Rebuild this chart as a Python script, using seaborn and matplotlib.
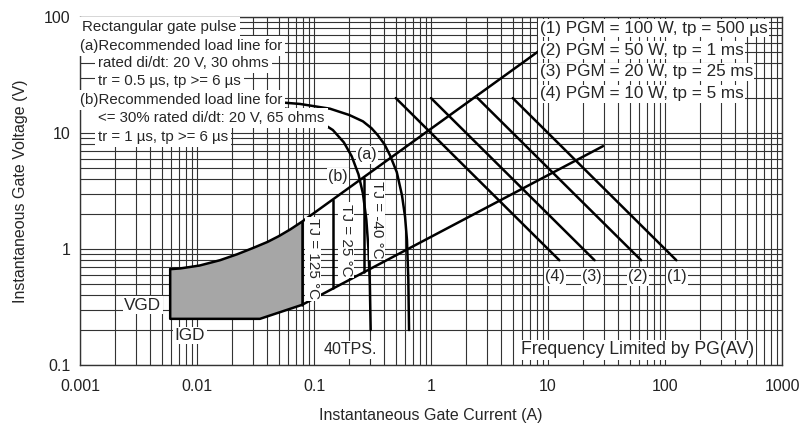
import matplotlib
matplotlib.use("Agg")
import matplotlib.pyplot as plt
import matplotlib.ticker as mticker
import seaborn as sns
import pandas as pd

# gate trigger area: upper load-line path and lower boundary path
upper_i = [0.0059, 0.0072, 0.0105, 0.0157, 0.022, 0.0301, 0.04, 0.05, 0.063, 0.079, 8.6]
upper_v = [0.67, 0.68, 0.72, 0.80, 0.90, 1.02, 1.15, 1.29, 1.48, 1.72, 52.0]
lower_i = [0.0059, 0.0059, 0.0345, 0.079, 29.5]
lower_v = [0.67, 0.25, 0.25, 0.33, 7.7]
n_top = 10  # points of upper_i that bound the shaded area

# recommended load lines (a) 20 V / 30 ohm and (b) 20 V / 65 ohm
load_a_i = [0.001, 0.03, 0.076, 0.137, 0.2, 0.262, 0.31, 0.35, 0.4, 0.447, 0.51, 0.565, 0.6, 0.623, 0.64, 0.649]
load_a_v = [20.0, 19.2, 17.8, 16.2, 14.3, 12.6, 11.0, 9.6, 8.0, 6.4, 4.6, 2.9, 1.9, 1.2, 0.55, 0.2]
load_b_i = [0.001, 0.03, 0.06, 0.1, 0.145, 0.18, 0.21, 0.24, 0.262, 0.28, 0.292, 0.3, 0.305]
load_b_v = [19.9, 18.0, 16.1, 13.5, 10.6, 8.3, 6.3, 4.4, 3.0, 1.8, 1.0, 0.5, 0.2]

# IGT limits for each junction temperature (vertical segments)
tj_labels = ["TJ = 125 °C", "TJ = 25 °C", "TJ = -40 °C"]
tj_i = [0.079, 0.145, 0.265]
tj_v_low = [0.33, 0.46, 0.63]
tj_v_high = [1.72, 2.65, 4.08]
tj_text_i = [0.098, 0.188, 0.345]
tj_text_v = [0.82, 1.2, 1.78]

# peak gate power lines (1)..(4)
pgm_names = ["(1)", "(2)", "(3)", "(4)"]
pgm_i_start = [5.0, 2.5, 1.0, 0.5]
pgm_i_end = [125.0, 62.5, 25.0, 12.5]
pgm_v = [20.0, 0.8]
pgm_label_i = [127.0, 58.7, 23.8, 11.5]
pgm_label_v = 0.574

legend_lines = ["(1) PGM = 100 W, tp = 500 µs",
                "(2) PGM = 50 W, tp = 1 ms",
                "(3) PGM = 20 W, tp = 25 ms",
                "(4) PGM = 10 W, tp = 5 ms"]
note_lines = ["Rectangular gate pulse",
              "(a)Recommended load line for",
              "rated di/dt: 20 V, 30 ohms",
              "tr = 0.5 µs, tp >= 6 µs",
              "(b)Recommended load line for",
              "<= 30% rated di/dt: 20 V, 65 ohms",
              "tr = 1 µs, tp >= 6 µs"]
note_indent = [0.003, 0.0, 0.026, 0.026, 0.0, 0.026, 0.026]
note_y = [0.971, 0.917, 0.868, 0.816, 0.761, 0.710, 0.655]

x_ticks = [0.001, 0.01, 0.1, 1, 10, 100, 1000]
x_tick_labels = ["0.001", "0.01", "0.1", "1", "10", "100", "1000"]
y_ticks = [0.1, 1, 10, 100]
y_tick_labels = ["0.1", "1", "10", "100"]

sns.set_theme(style="white")
plt.rcParams["font.family"] = ["Liberation Sans", "DejaVu Sans"]

# one long table for all the black curves
rows = []
def add_curve(name, xs, ys):
    for x, y in zip(xs, ys):
        rows.append({"curve": name, "I": x, "V": y})

add_curve("upper", upper_i, upper_v)
add_curve("lower", lower_i, lower_v)
add_curve("a", load_a_i, load_a_v)
add_curve("b", load_b_i, load_b_v)
for k in range(len(tj_i)):
    add_curve("tj%d" % k, [tj_i[k], tj_i[k]], [tj_v_low[k], tj_v_high[k]])
for k in range(len(pgm_names)):
    add_curve("p%d" % k, [pgm_i_start[k], pgm_i_end[k]], pgm_v)
curves = pd.DataFrame(rows)

fig = plt.figure(figsize=(8.01, 4.26), dpi=100)
ax = fig.add_axes([80 / 801, 1 - 365 / 426, 702 / 801, 348 / 426])
ax.set_xscale("log")
ax.set_yscale("log")
ax.set_xlim(0.001, 1000)
ax.set_ylim(0.1, 100)

# shaded gate trigger area
poly_i = upper_i[:n_top] + [lower_i[3], lower_i[2], lower_i[1]]
poly_v = upper_v[:n_top] + [lower_v[3], lower_v[2], lower_v[1]]
ax.fill(poly_i, poly_v, color="#a6a6a6", zorder=1.5, lw=0)

sns.lineplot(data=curves, x="I", y="V", units="curve", estimator=None,
             sort=False, color="black", lw=1.8, ax=ax, zorder=2)

ax.grid(True, which="both", color="#333333", lw=0.8)
ax.set_axisbelow(True)
ax.set_xticks(x_ticks)
ax.set_xticklabels(x_tick_labels)
ax.set_yticks(y_ticks)
ax.set_yticklabels(y_tick_labels)
ax.xaxis.set_minor_locator(mticker.LogLocator(base=10, subs=range(2, 10)))
ax.yaxis.set_minor_locator(mticker.LogLocator(base=10, subs=range(2, 10)))
ax.xaxis.set_minor_formatter(mticker.NullFormatter())
ax.yaxis.set_minor_formatter(mticker.NullFormatter())
ax.tick_params(which="both", length=0, labelsize=11.5, colors="#222222")
ax.tick_params(axis="x", pad=10)
ax.tick_params(axis="y", pad=7)
for s in ax.spines.values():
    s.set_color("#333333")
    s.set_linewidth(1.0)

ax.set_xlabel("Instantaneous Gate Current (A)", fontsize=11.5, labelpad=10)
ax.set_ylabel("Instantaneous Gate Voltage (V)", fontsize=11.5, labelpad=11)

box = dict(facecolor="white", edgecolor="none", pad=1.0)
note_box = dict(facecolor="white", edgecolor="none", pad=2.2)

for txt, xa, ya in zip(note_lines, note_indent, note_y):
    ax.text(xa, ya, txt, transform=ax.transAxes, fontsize=10.8, ha="left",
            va="center", bbox=note_box, zorder=5)

for k, txt in enumerate(legend_lines):
    ax.text(0.655, 0.968 - 0.063 * k, txt, transform=ax.transAxes,
            fontsize=12.3, ha="left", va="center", bbox=box, zorder=5)

for k in range(len(pgm_names)):
    ax.text(pgm_label_i[k], pgm_label_v, pgm_names[k], fontsize=11.5,
            ha="center", va="center", bbox=box, zorder=5)

for k in range(len(tj_labels)):
    ax.text(tj_text_i[k], tj_text_v[k], tj_labels[k], fontsize=11,
            rotation=270, ha="center", va="center", bbox=box, zorder=5)

ax.text(0.284, 6.5, "(a)", fontsize=11.5, ha="center", va="center", bbox=box, zorder=5)
ax.text(0.160, 4.2, "(b)", fontsize=11.5, ha="center", va="center", bbox=box, zorder=5)
ax.text(0.203, 0.135, "40TPS.", fontsize=11.5, ha="center", va="center", bbox=box, zorder=5)
ax.text(0.00345, 0.329, "VGD", fontsize=12.3, ha="center", va="center", bbox=box, zorder=5)
ax.text(0.00872, 0.18, "IGD", fontsize=12.3, ha="center", va="center", bbox=box, zorder=5)
ax.text(58.7, 0.135, "Frequency Limited by PG(AV)", fontsize=12.7,
        ha="center", va="center", bbox=box, zorder=5)

fig.savefig("out.png", dpi=100)
